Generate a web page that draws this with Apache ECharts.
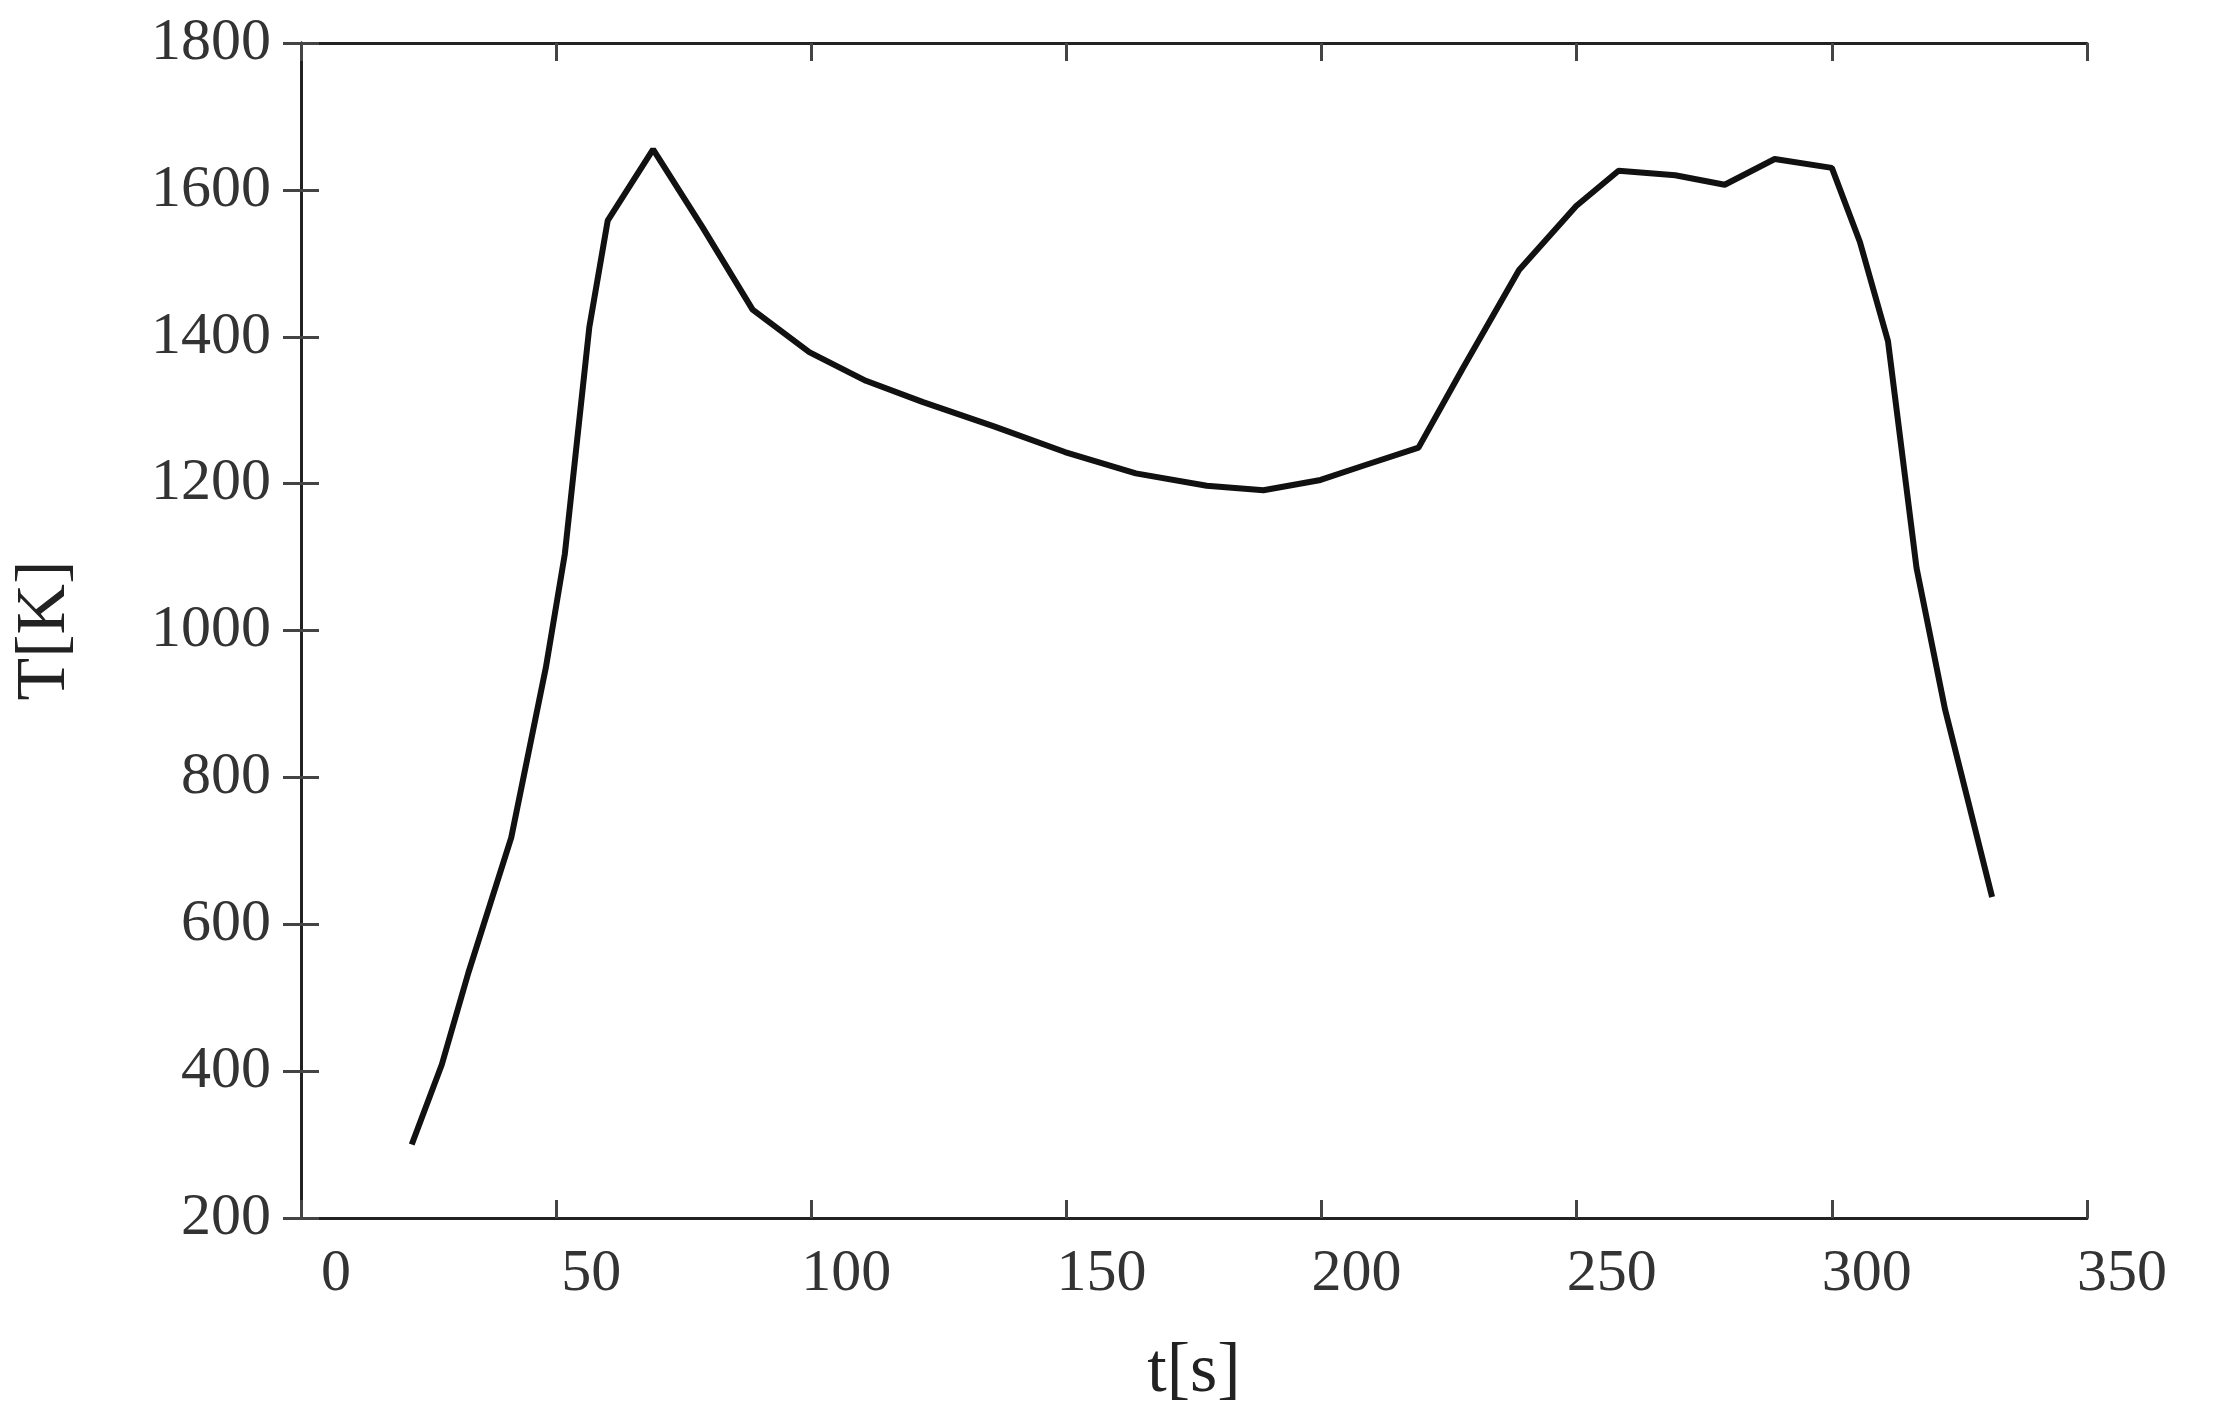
<!DOCTYPE html>
<html><head><meta charset="utf-8">
<script src="https://cdn.jsdelivr.net/npm/echarts@6/dist/echarts.min.js"></script>
<style>html,body{margin:0;background:#fff}#c{width:2215px;height:1423px}</style>
</head><body><div id="c"></div>
<script>
var timeS = [21.7, 27.6, 32.8, 41.2, 48, 51.7, 56.5, 60.1, 69, 78.7, 88.5, 99.6, 110.7, 121.9, 135.8, 149.7, 163.6, 177.5, 188.6, 199.8, 208, 219, 227.6, 238.7, 249.9, 258.2, 269.3, 279, 288.8, 300, 305.5, 311, 316.6, 322.2, 326.4, 331.4];
var tempK = [300, 409, 534, 718, 950, 1104, 1413, 1558, 1655, 1549, 1437, 1379, 1340, 1311, 1278, 1243, 1214, 1197, 1191, 1205, 1224, 1249, 1356, 1491, 1578, 1626, 1620, 1607, 1642, 1630, 1529, 1394, 1085, 892, 776, 637];

var FONT = "Liberation Serif, DejaVu Serif, serif";
var chart = echarts.init(document.getElementById("c"));
var lbl = { color: "#333", fontFamily: FONT, fontSize: 60, formatter: function (v) { return String(v); } };
var line = { lineStyle: { color: "#222", width: 3 } };
var tick = { show: true, inside: true, length: 18, lineStyle: { color: "#444", width: 3 } };

chart.setOption({
  animation: false,
  grid: { left: 301, right: 128, top: 43, bottom: 205 },
  xAxis: [{
    type: "value", min: 0, max: 350, interval: 50,
    name: "t[s]", nameLocation: "middle", nameGap: 120,
    nameTextStyle: { color: "#222", fontFamily: FONT, fontSize: 70 },
    axisLine: line, axisTick: tick, splitLine: { show: false },
    axisLabel: Object.assign({ margin: 26, padding: [0, 0, 0, 70] }, lbl)
  }, {
    type: "value", min: 0, max: 350, interval: 50, position: "top",
    axisLine: line, axisTick: tick, axisLabel: { show: false }, splitLine: { show: false }
  }],
  yAxis: [{
    type: "value", min: 200, max: 1800, interval: 200,
    name: "T[K]", nameLocation: "middle", nameGap: 220,
    nameTextStyle: { color: "#222", fontFamily: FONT, fontSize: 70 },
    axisLine: line, axisTick: tick, splitLine: { show: false },
    axisLabel: Object.assign({ margin: 30, padding: [0, 0, 30, 0] }, lbl)
  }, {
    type: "value", min: 200, max: 1800, interval: 200, position: "right",
    axisLine: line, axisTick: tick, axisLabel: { show: false }, splitLine: { show: false }
  }],
  series: [{
    type: "line", showSymbol: false, xAxisIndex: 0, yAxisIndex: 0,
    data: timeS.map(function (t, i) { return [t, tempK[i]]; }),
    lineStyle: { color: "#111", width: 6 }
  }]
});
</script></body></html>
